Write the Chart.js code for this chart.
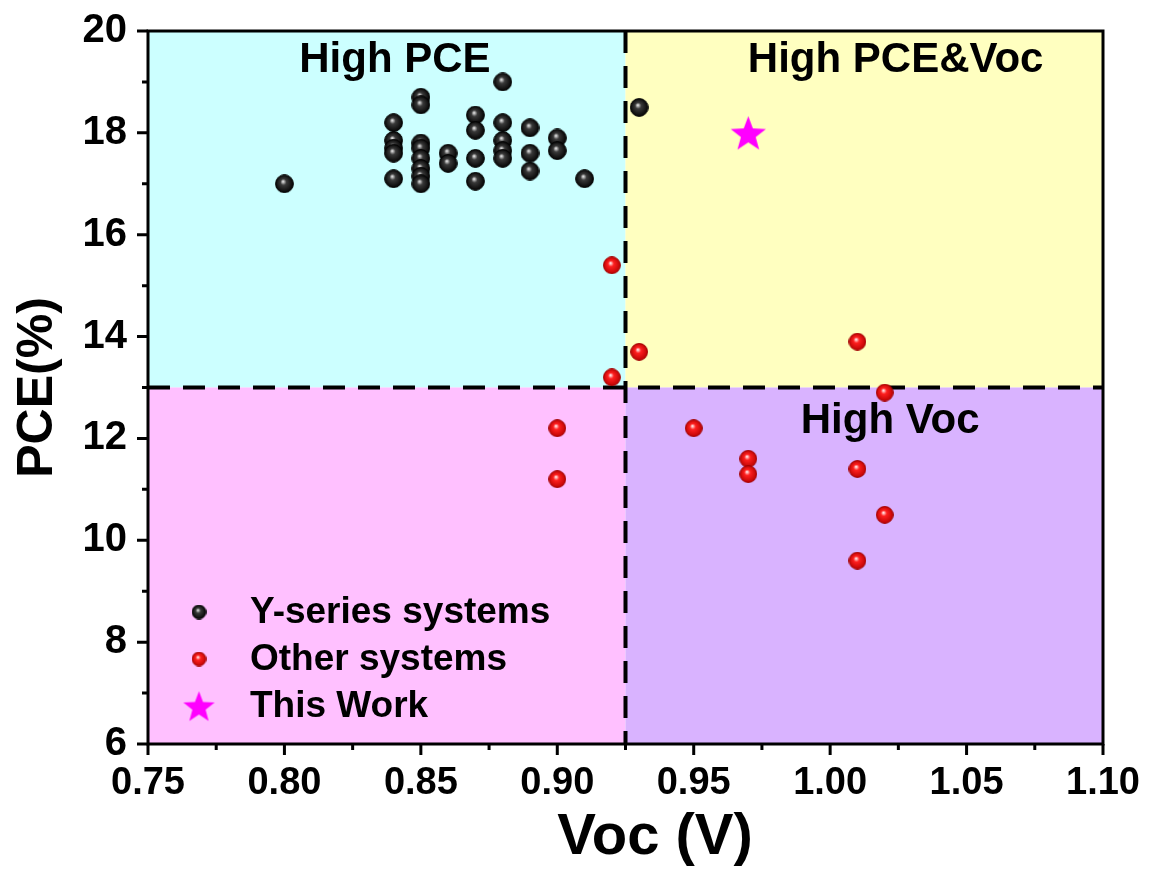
<!DOCTYPE html>
<html>
<head>
<meta charset="utf-8">
<script src="https://cdn.jsdelivr.net/npm/chart.js@4.4.0/dist/chart.umd.min.js"></script>
<style>
  html, body { margin: 0; padding: 0; background: #fff; }
</style>
</head>
<body>
<canvas id="scatter" width="1149" height="871"></canvas>
<script>
// Y-series acceptor systems
const yVoc = [0.80,
  0.84, 0.84, 0.84, 0.84, 0.84,
  0.85, 0.85, 0.85, 0.85, 0.85, 0.85, 0.85, 0.85,
  0.86, 0.86,
  0.87, 0.87, 0.87, 0.87,
  0.88, 0.88, 0.88, 0.88, 0.88,
  0.89, 0.89, 0.89,
  0.90, 0.90,
  0.91,
  0.93];
const yPce = [17.0,
  18.2, 17.85, 17.7, 17.6, 17.1,
  18.7, 18.55, 17.8, 17.7, 17.5, 17.3, 17.15, 17.0,
  17.6, 17.4,
  18.35, 18.05, 17.5, 17.05,
  19.0, 18.2, 17.85, 17.65, 17.5,
  18.1, 17.6, 17.25,
  17.9, 17.65,
  17.1,
  18.5];

// other systems
const otherVoc = [0.92, 0.93, 0.92, 1.01, 1.02, 0.90, 0.95, 0.97, 0.97, 1.01, 1.02, 1.01, 0.90];
const otherPce = [15.4, 13.7, 13.2, 13.9, 12.9, 12.2, 12.2, 11.6, 11.3, 11.4, 10.5, 9.6, 11.2];

// this work
const workVoc = [0.97];
const workPce = [18.0];

const seriesNames = ["Y-series systems", "Other systems", "This Work"];

// quadrant split and names
const VOC_CUT = 0.925;
const PCE_CUT = 13;
const zoneNames = ["High PCE", "High PCE&Voc", "High Voc"];
const zoneNameVoc = [0.8405, 1.024, 1.022];
const zoneNamePce = [19.43, 19.43, 12.34];

const X_MIN = 0.75, X_MAX = 1.10, X_STEP = 0.05;
const Y_MIN = 6, Y_MAX = 20, Y_STEP = 2;

const FONT = "'Liberation Sans', Arial, sans-serif";

function sphere(d, light, base, shade, rim) {
  const c = document.createElement("canvas");
  c.width = c.height = d;
  const g = c.getContext("2d");
  const r = d / 2;
  const grad = g.createRadialGradient(r * 0.85, r * 0.75, 0.3, r, r, r);
  grad.addColorStop(0, light);
  grad.addColorStop(0.3, base);
  grad.addColorStop(1, shade);
  g.fillStyle = grad;
  g.beginPath();
  g.arc(r, r, r - 0.6, 0, Math.PI * 2);
  g.fill();
  g.strokeStyle = rim;
  g.lineWidth = 1;
  g.stroke();
  return c;
}

function star(size, color) {
  const c = document.createElement("canvas");
  c.width = c.height = size;
  const g = c.getContext("2d");
  const R = size / 2, r = R * 0.42, cy = R + size * 0.05;
  g.beginPath();
  for (let i = 0; i < 10; i++) {
    const a = -Math.PI / 2 + i * Math.PI / 5;
    const rad = i % 2 ? r : R;
    g.lineTo(R + rad * Math.cos(a), cy + rad * Math.sin(a));
  }
  g.closePath();
  g.fillStyle = color;
  g.fill();
  return c;
}

const blackBall = sphere(19, "#e8e8e8", "#3a3a3a", "#000", "#000");
const redBall = sphere(18, "#fff0f0", "#ff2020", "#b80000", "#a00000");
const magentaStar = star(37, "#ff00ff");
const legendIcons = [sphere(15, "#e8e8e8", "#3a3a3a", "#000", "#000"),
                     sphere(15, "#fff0f0", "#ff2020", "#b80000", "#a00000"),
                     star(33, "#ff00ff")];

const toPoints = (xs, ys) => xs.map((v, i) => ({ x: v, y: ys[i] }));

const quadrants = {
  id: "quadrants",
  beforeDatasetsDraw(chart) {
    const { ctx, chartArea: a, scales: { x, y } } = chart;
    const vx = x.getPixelForValue(VOC_CUT);
    const py = y.getPixelForValue(PCE_CUT);
    ctx.save();
    ctx.fillStyle = "#ccffff";
    ctx.fillRect(a.left, a.top, vx - a.left, py - a.top);
    ctx.fillStyle = "#ffffc0";
    ctx.fillRect(vx, a.top, a.right - vx, py - a.top);
    ctx.fillStyle = "#ffc0ff";
    ctx.fillRect(a.left, py, vx - a.left, a.bottom - py);
    ctx.fillStyle = "#d9b3ff";
    ctx.fillRect(vx, py, a.right - vx, a.bottom - py);

    // zone names
    ctx.fillStyle = "#000";
    ctx.font = "bold 42px " + FONT;
    ctx.textAlign = "center";
    ctx.textBaseline = "middle";
    zoneNames.forEach((t, i) => {
      ctx.fillText(t, x.getPixelForValue(zoneNameVoc[i]), y.getPixelForValue(zoneNamePce[i]));
    });

    // dashed split lines
    ctx.strokeStyle = "#000";
    ctx.lineWidth = 4;
    ctx.setLineDash([22, 13]);
    ctx.beginPath();
    ctx.moveTo(a.left, py);
    ctx.lineTo(a.right, py);
    ctx.moveTo(vx, a.top);
    ctx.lineTo(vx, a.bottom);
    ctx.stroke();
    ctx.restore();
  },
  afterDraw(chart) {
    const { ctx, chartArea: a, scales: { x, y } } = chart;
    ctx.save();
    ctx.strokeStyle = "#000";
    ctx.lineWidth = 3;
    ctx.strokeRect(a.left, a.top, a.right - a.left, a.bottom - a.top);

    // outward major / minor ticks
    ctx.beginPath();
    const nx = Math.round((X_MAX - X_MIN) / (X_STEP / 2));
    for (let i = 0; i <= nx; i++) {
      const px = x.getPixelForValue(X_MIN + i * X_STEP / 2);
      ctx.moveTo(px, a.bottom);
      ctx.lineTo(px, a.bottom + (i % 2 ? 6 : 11));
    }
    const ny = Math.round((Y_MAX - Y_MIN) / (Y_STEP / 2));
    for (let i = 0; i <= ny; i++) {
      const py = y.getPixelForValue(Y_MIN + i * Y_STEP / 2);
      ctx.moveTo(a.left, py);
      ctx.lineTo(a.left - (i % 2 ? 6 : 11), py);
    }
    ctx.stroke();

    // x axis title, sitting a little right of centre
    ctx.fillStyle = "#000";
    ctx.textAlign = "center";
    ctx.textBaseline = "middle";
    ctx.font = "bold 58px " + FONT;
    ctx.fillText("Voc (V)", a.left + (a.right - a.left) * 0.531, a.bottom + 94);

    // legend
    ctx.font = "bold 37px " + FONT;
    ctx.textAlign = "left";
    const rows = [a.bottom - 132, a.bottom - 85, a.bottom - 38];
    chart.data.datasets.forEach((ds, i) => {
      const icon = legendIcons[i];
      ctx.drawImage(icon, a.left + 51 - icon.width / 2, rows[i] - icon.height / 2);
      ctx.fillText(ds.label, a.left + 102, rows[i] + 1);
    });
    ctx.restore();
  }
};

new Chart(document.getElementById("scatter"), {
  type: "scatter",
  data: {
    datasets: [
      { label: seriesNames[0], data: toPoints(yVoc, yPce), pointStyle: blackBall, pointRadius: 9 },
      { label: seriesNames[1], data: toPoints(otherVoc, otherPce), pointStyle: redBall, pointRadius: 9 },
      { label: seriesNames[2], data: toPoints(workVoc, workPce), pointStyle: magentaStar, pointRadius: 18 }
    ]
  },
  options: {
    responsive: false,
    animation: false,
    events: [],
    layout: { padding: { top: 31, right: 46, left: 0, bottom: 0 } },
    scales: {
      x: {
        type: "linear",
        min: X_MIN,
        max: X_MAX,
        grid: { display: false },
        border: { display: false },
        ticks: {
          stepSize: X_STEP,
          padding: 9,
          color: "#000",
          font: { family: FONT, size: 38, weight: "bold" },
          callback: v => v.toFixed(2)
        },
        afterFit: s => {
          s.height = 127;
          s.paddingLeft = 0;
          s.paddingRight = 0;
        }
      },
      y: {
        type: "linear",
        min: Y_MIN,
        max: Y_MAX,
        grid: { display: false },
        border: { display: false },
        ticks: {
          stepSize: Y_STEP,
          padding: 13,
          color: "#000",
          font: { family: FONT, size: 40, weight: "bold" }
        },
        title: {
          display: true,
          text: "PCE(%)",
          color: "#000",
          font: { family: FONT, size: 50, weight: "bold", lineHeight: 1.1 },
          padding: { top: 11, bottom: 0 }
        },
        afterFit: s => {
          s.width = 148;
          s.paddingTop = 0;
          s.paddingBottom = 0;
        }
      }
    },
    plugins: {
      legend: { display: false },
      tooltip: { enabled: false }
    }
  },
  plugins: [quadrants]
});
</script>
</body>
</html>
